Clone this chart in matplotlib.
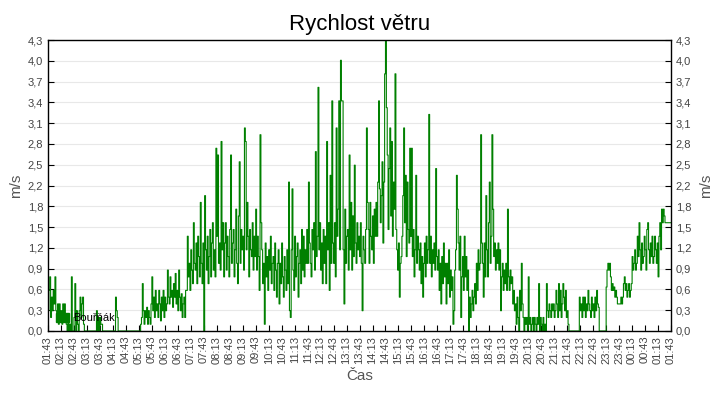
import matplotlib

matplotlib.use("Agg")
import matplotlib.dates as mdates
import matplotlib.pyplot as plt
import numpy as np
import pandas as pd
from matplotlib.patches import Patch

plt.rcParams["font.family"] = ["Liberation Sans", "DejaVu Sans"]

TITLE = "Rychlost větru"
SERIES_NAME = "Bouřňák"
START = "2020-01-01 01:43"
STEP_MIN = 2

# wind speed (m/s), one reading per 2 minutes (20 per row = 40 min)
WIND = [
    0.3, 0.6, 0.8, 0.2, 0.5, 0.3, 0.6, 0.4, 0.8, 0.3, 0.2, 0.4, 0.1, 0.4, 0.2, 0.3, 0.1, 0.4, 0.2, 0.4,
    0.2, 0.1, 0.0, 0.2, 0.0, 0.1, 0.0, 0.8, 0.0, 0.0, 0.2, 0.7, 0.0, 0.3, 0.1, 0.0, 0.3, 0.5, 0.2, 0.4,
    0.5, 0.1, 0.0, 0.0, 0.0, 0.0, 0.0, 0.0, 0.0, 0.0, 0.0, 0.0, 0.0, 0.0, 0.0, 0.0, 0.3, 0.0, 0.2, 0.0,
    0.2, 0.1, 0.1, 0.0, 0.0, 0.0, 0.0, 0.0, 0.0, 0.0, 0.0, 0.0, 0.0, 0.0, 0.0, 0.0, 0.0, 0.0, 0.5, 0.3,
    0.2, 0.0, 0.0, 0.0, 0.0, 0.0, 0.0, 0.0, 0.0, 0.0, 0.0, 0.0, 0.0, 0.0, 0.0, 0.0, 0.0, 0.0, 0.0, 0.0,
    0.0, 0.0, 0.0, 0.0, 0.0, 0.0, 0.0, 0.1, 0.2, 0.7, 0.3, 0.1, 0.3, 0.2, 0.35, 0.1, 0.3, 0.2, 0.1, 0.4,
    0.8, 0.3, 0.5, 0.2, 0.6, 0.3, 0.4, 0.2, 0.6, 0.4, 0.15, 0.5, 0.3, 0.6, 0.2, 0.5, 0.3, 0.4, 0.9, 0.5,
    0.4, 0.8, 0.5, 0.6, 0.35, 0.7, 0.5, 0.85, 0.4, 0.6, 0.3, 0.9, 0.5, 0.3, 0.55, 0.2, 0.4, 0.5, 0.2, 0.6,
    0.6, 1.4, 0.8, 1.0, 0.6, 1.2, 0.9, 0.7, 1.6, 1.0, 0.9, 1.3, 0.7, 1.4, 1.1, 0.8, 1.9, 1.0, 0.7, 1.3,
    0.0, 2.0, 1.2, 0.9, 1.4, 0.7, 1.1, 1.5, 0.8, 1.3, 1.6, 0.9, 1.2, 0.8, 2.7, 1.4, 2.6, 1.0, 1.3, 0.9,
    2.8, 1.2, 1.6, 0.8, 1.3, 1.6, 0.9, 1.4, 1.1, 0.8, 1.5, 2.6, 1.0, 1.3, 1.5, 0.8, 1.2, 1.8, 1.0, 0.7,
    1.7, 2.5, 1.0, 1.5, 1.2, 1.4, 0.9, 3.0, 2.8, 1.2, 1.9, 1.4, 0.8, 1.5, 1.2, 1.1, 1.6, 0.9, 1.4, 1.1,
    1.8, 0.9, 1.4, 1.1, 0.6, 2.9, 1.6, 1.2, 0.7, 1.0, 0.1, 1.3, 0.8, 1.1, 0.6, 1.2, 0.9, 1.4, 0.7, 1.0,
    1.1, 0.6, 1.3, 0.9, 0.5, 1.0, 1.2, 0.4, 1.0, 0.7, 1.3, 0.8, 0.5, 1.1, 0.9, 0.6, 1.2, 0.7, 2.2, 0.3,
    0.2, 1.2, 2.1, 0.9, 0.6, 1.4, 0.8, 1.1, 1.3, 0.5, 1.0, 1.2, 0.7, 1.5, 0.9, 1.4, 0.8, 1.2, 1.0, 1.5,
    1.0, 2.2, 1.3, 1.0, 0.8, 1.5, 1.2, 1.6, 0.9, 2.65, 1.1, 1.4, 3.6, 1.2, 1.6, 0.9, 1.3, 0.7, 1.5, 1.0,
    1.4, 0.7, 2.8, 1.2, 1.6, 0.6, 2.3, 1.0, 3.4, 1.3, 1.0, 1.6, 0.8, 3.0, 1.4, 1.8, 3.4, 1.2, 4.0, 3.4,
    3.4, 1.2, 0.4, 1.8, 1.0, 1.4, 1.5, 0.9, 2.6, 1.2, 1.9, 0.9, 1.7, 1.1, 2.45, 1.3, 1.0, 1.6, 1.2, 1.4,
    1.1, 1.6, 1.0, 0.3, 1.4, 1.2, 1.0, 1.5, 3.0, 1.9, 1.5, 1.0, 1.9, 1.4, 1.2, 1.7, 1.0, 1.8, 1.4, 1.9,
    1.4, 2.2, 3.4, 2.1, 1.6, 2.0, 2.5, 1.3, 2.2, 3.8, 4.3, 3.3, 2.6, 1.5, 2.4, 3.0, 1.7, 2.8, 1.4, 2.2,
    1.8, 3.8, 1.5, 1.2, 0.9, 1.3, 0.5, 1.0, 1.1, 1.4, 2.0, 3.0, 1.6, 2.3, 1.1, 2.2, 1.5, 1.3, 2.7, 1.4,
    2.7, 1.1, 1.5, 0.8, 1.2, 2.3, 1.0, 1.4, 1.2, 0.9, 1.3, 0.7, 1.1, 0.5, 1.0, 1.3, 0.8, 1.4, 1.0, 1.2,
    3.2, 1.0, 1.4, 0.8, 1.2, 1.0, 1.3, 0.9, 2.4, 1.1, 0.9, 1.2, 0.6, 1.0, 0.4, 1.1, 0.7, 1.3, 0.8, 1.0,
    0.4, 1.0, 0.7, 1.2, 0.5, 0.9, 0.6, 0.8, 0.1, 0.3, 0.9, 1.2, 2.3, 1.8, 1.3, 0.9, 1.4, 0.2, 0.8, 1.1,
    0.6, 1.4, 0.8, 1.1, 0.6, 0.9, 0.0, 0.5, 0.2, 0.4, 0.6, 0.3, 0.5, 0.7, 0.4, 1.0, 0.6, 1.2, 0.9, 1.0,
    2.9, 1.3, 1.0, 0.5, 1.3, 0.8, 2.0, 1.2, 0.8, 1.6, 2.2, 1.0, 1.4, 2.9, 1.8, 1.1, 1.3, 0.9, 1.2, 1.0,
    1.3, 0.9, 1.2, 0.3, 0.8, 1.0, 0.6, 0.9, 0.7, 1.0, 0.6, 1.8, 0.8, 0.6, 0.9, 0.7, 0.8, 0.4, 0.6, 0.3,
    0.4, 0.1, 0.5, 0.2, 0.0, 0.6, 0.3, 1.0, 0.4, 0.2, 0.0, 0.2, 0.1, 0.2, 0.0, 0.8, 0.1, 0.2, 0.0, 0.1,
    0.2, 0.0, 0.2, 0.1, 0.0, 0.2, 0.1, 0.7, 0.0, 0.2, 0.1, 0.0, 0.2, 0.0, 0.1, 0.0, 0.7, 0.3, 0.2, 0.4,
    0.3, 0.2, 0.4, 0.3, 0.4, 0.2, 0.3, 0.6, 0.4, 0.2, 0.7, 0.3, 0.6, 0.2, 0.4, 0.7, 0.5, 0.3, 0.6, 0.2,
    0.3, 0.1, 0.0, 0.0, 0.0, 0.0, 0.0, 0.0, 0.0, 0.0, 0.0, 0.0, 0.0, 0.0, 0.5, 0.3, 0.4, 0.2, 0.5, 0.3,
    0.5, 0.2, 0.4, 0.3, 0.6, 0.4, 0.3, 0.2, 0.5, 0.3, 0.4, 0.2, 0.5, 0.3, 0.6, 0.4, 0.35, 0.0, 0.0, 0.0,
    0.0, 0.0, 0.0, 0.0, 0.0, 0.65, 0.9, 1.0, 0.9, 1.0, 0.8, 0.6, 0.7, 0.6, 0.65, 0.5, 0.6, 0.5, 0.4, 0.4,
    0.4, 0.4, 0.5, 0.4, 0.5, 0.7, 0.8, 0.6, 0.7, 0.5, 0.6, 0.7, 0.5, 0.6, 0.7, 1.1, 0.9, 1.0, 1.2, 0.9,
    1.0, 1.4, 1.1, 1.6, 1.2, 0.9, 1.3, 1.0, 1.1, 1.4, 1.2, 0.9, 1.5, 1.6, 1.2, 1.0, 1.3, 1.1, 1.4, 1.0,
    1.1, 1.4, 1.2, 1.0, 1.3, 0.8, 1.4, 1.6, 1.2, 1.8, 1.6, 1.8, 1.7, 1.6, 1.6, 1.6, 1.6, 1.6, 1.6, 1.6,
]

Y_TICK_LABELS = ["0,0", "0,3", "0,6", "0,9", "1,2", "1,5", "1,8", "2,2",
                 "2,5", "2,8", "3,1", "3,4", "3,7", "4,0", "4,3"]
Y_MAX = 4.3

GREEN = "#008000"
GRAY = "#444444"


def main() -> None:
    start = pd.Timestamp(START)
    end = start + pd.Timedelta(hours=24)
    times = pd.date_range(start, periods=len(WIND), freq=f"{STEP_MIN}min")
    x = list(times) + [end]
    y = WIND + [WIND[-1]]

    fig = plt.figure(figsize=(7.2, 4.0), dpi=100)
    ax = fig.add_axes([0.0667, 0.1725, 0.8653, 0.7275])

    ax.step(x, y, where="post", color=GREEN, lw=0.8)

    ax.set_xlim(start, end)
    ax.set_ylim(0, Y_MAX)

    yticks = np.linspace(0, Y_MAX, len(Y_TICK_LABELS))
    ax.set_yticks(yticks)
    ax.set_yticklabels(Y_TICK_LABELS)
    ax.grid(axis="y", color="#e8e8e8", lw=0.8)
    ax.set_axisbelow(True)

    ax.set_xticks(pd.date_range(start, end, freq="30min"))
    ax.xaxis.set_major_formatter(mdates.DateFormatter("%H:%M"))
    ax.tick_params(axis="x", rotation=90, direction="in", length=4,
                   labelsize=8, labelcolor=GRAY)
    ax.tick_params(axis="y", direction="in", length=4, labelsize=8,
                   labelcolor=GRAY, left=True, right=True,
                   labelleft=True, labelright=True)

    for side in ["left", "right", "top", "bottom"]:
        ax.spines[side].set_linewidth(1.0)

    ax.set_title(TITLE, fontsize=16, pad=7)
    ax.set_xlabel("Čas", fontsize=11, color="#555555", labelpad=4)
    ax.set_ylabel("m/s", fontsize=11, color="#555555", labelpad=3)
    ax2 = ax.secondary_yaxis("right")
    ax2.set_yticks([])
    ax2.spines["right"].set_visible(False)
    ax2.set_ylabel("m/s", fontsize=11, color="#555555", labelpad=20)

    ax.legend(handles=[Patch(color=GREEN, label=SERIES_NAME)], loc="lower left",
              frameon=False, fontsize=8, handlelength=1.2, handleheight=0.8,
              handletextpad=0.4, borderaxespad=0.3)

    fig.savefig("out.png", dpi=100)
    plt.close(fig)


if __name__ == "__main__":
    main()
